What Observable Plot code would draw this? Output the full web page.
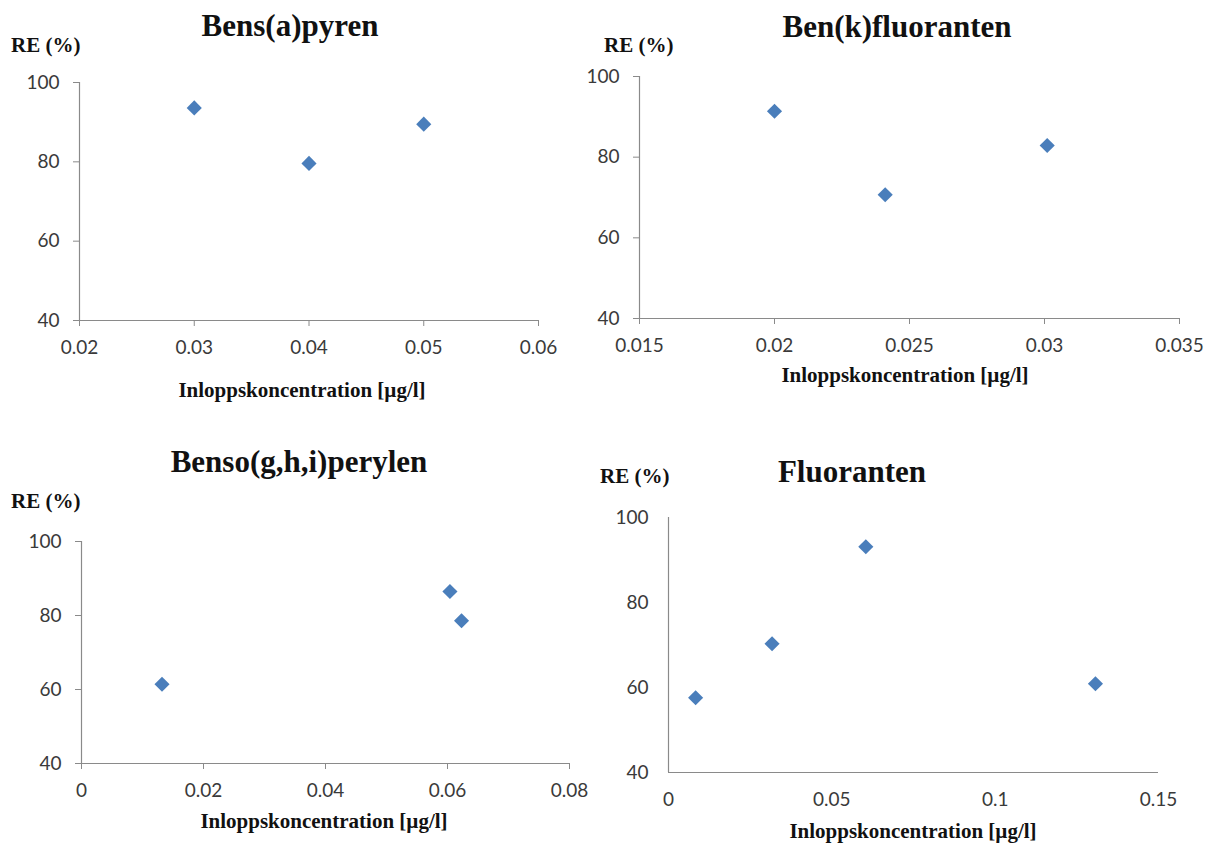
<!DOCTYPE html>
<html><head><meta charset="utf-8">
<script src="https://cdn.jsdelivr.net/npm/d3@7"></script>
<script src="https://cdn.jsdelivr.net/npm/@observablehq/plot@0.6"></script>
<style>
body{margin:0;background:#fff;}
#root{position:relative;width:1206px;height:843px;overflow:hidden;background:#fff;}
#root svg{position:absolute;left:0;top:0;}
</style></head><body><div id="root"></div>
<script>
// ---- data ----
const titles = ["Bens(a)pyren", "Ben(k)fluoranten", "Benso(g,h,i)perylen", "Fluoranten"];
const yLabel = "RE (%)";
const xLabel = "Inloppskoncentration [µg/l]";
const yTicks = [40, 60, 80, 100];

const p1X = [0.030, 0.040, 0.050];
const p1Y = [93.6, 79.6, 89.5];
const p1Ticks = [0.02, 0.03, 0.04, 0.05, 0.06];

const p2X = [0.0200, 0.0241, 0.0301];
const p2Y = [91.4, 70.7, 82.9];
const p2Ticks = [0.015, 0.02, 0.025, 0.03, 0.035];

const p3X = [0.0132, 0.0604, 0.0623];
const p3Y = [61.4, 86.5, 78.6];
const p3Ticks = [0, 0.02, 0.04, 0.06, 0.08];

const p4X = [0.0083, 0.0317, 0.0604, 0.1307];
const p4Y = [57.6, 70.3, 93.1, 60.9];
const p4Ticks = [0, 0.05, 0.1, 0.15];

// ---- layout (pixels) ----
const W = 1206, H = 843;
const panels = [
  {xs: p1X, ys: p1Y, ticks: p1Ticks, left: 79, right: 538, top: 82, bottom: 320, tick: 6,
   title: [290, 36], re: [11, 52], xl: [302, 397]},
  {xs: p2X, ys: p2Y, ticks: p2Ticks, left: 639, right: 1179, top: 76, bottom: 318, tick: 6,
   title: [897, 37], re: [604, 52], xl: [905, 382]},
  {xs: p3X, ys: p3Y, ticks: p3Ticks, left: 81, right: 569, top: 541, bottom: 763, tick: 6,
   title: [299, 472], re: [11, 508], xl: [324, 828]},
  {xs: p4X, ys: p4Y, ticks: p4Ticks, left: 668, right: 1158, top: 517, bottom: 772, tick: 0,
   title: [852, 482], re: [600, 483], xl: [913, 838]}
];

const root = document.getElementById("root");
const axisGray = "#8a8a8a";
const labelColor = "#3a3a3a";
const markerColor = "#4a7ebb";

panels.forEach((p, i) => {
  const data = p.xs.map((x, k) => ({x, y: p.ys[k]}));
  const xmin = p.ticks[0], xmax = p.ticks[p.ticks.length - 1];
  const chart = Plot.plot({
    width: W, height: H,
    marginLeft: p.left, marginRight: W - p.right,
    marginTop: p.top, marginBottom: H - p.bottom,
    style: {background: "transparent", fontFamily: "Lato, 'Open Sans', sans-serif", fontSize: "19px", color: labelColor, overflow: "visible"},
    x: {domain: [xmin, xmax]},
    y: {domain: [40, 100]},
    marks: [
      Plot.axisX({ticks: p.ticks, tickFormat: d => String(d), tickSize: p.tick, tickPadding: 20 - p.tick, label: null, stroke: axisGray, fill: labelColor}),
      Plot.axisY({ticks: yTicks, tickFormat: d => String(d), tickSize: p.tick, tickPadding: 20 - p.tick, label: null, stroke: axisGray, fill: labelColor}),
      Plot.ruleY([40], {stroke: axisGray, strokeWidth: 1.2}),
      Plot.ruleX([xmin], {stroke: axisGray, strokeWidth: 1.2}),
      Plot.dot(data, {x: "x", y: "y", symbol: "diamond2", r: 6.8, fill: markerColor, stroke: "none"})
    ]
  });
  root.appendChild(chart);
});

// text overlay (titles and axis labels)
const svg = d3.select(root).append("svg").attr("width", W).attr("height", H)
  .style("font-family", "'Liberation Serif', 'Times New Roman', serif").style("font-weight", "bold");
panels.forEach((p, i) => {
  svg.append("text").attr("x", p.title[0]).attr("y", p.title[1]).attr("text-anchor", "middle")
    .attr("font-size", 31).attr("fill", "#111").text(titles[i]);
  svg.append("text").attr("x", p.re[0]).attr("y", p.re[1]).attr("text-anchor", "start")
    .attr("font-size", 21).attr("fill", "#111").text(yLabel);
  svg.append("text").attr("x", p.xl[0]).attr("y", p.xl[1]).attr("text-anchor", "middle")
    .attr("font-size", 21).attr("fill", "#111").text(xLabel);
});
</script></body></html>
